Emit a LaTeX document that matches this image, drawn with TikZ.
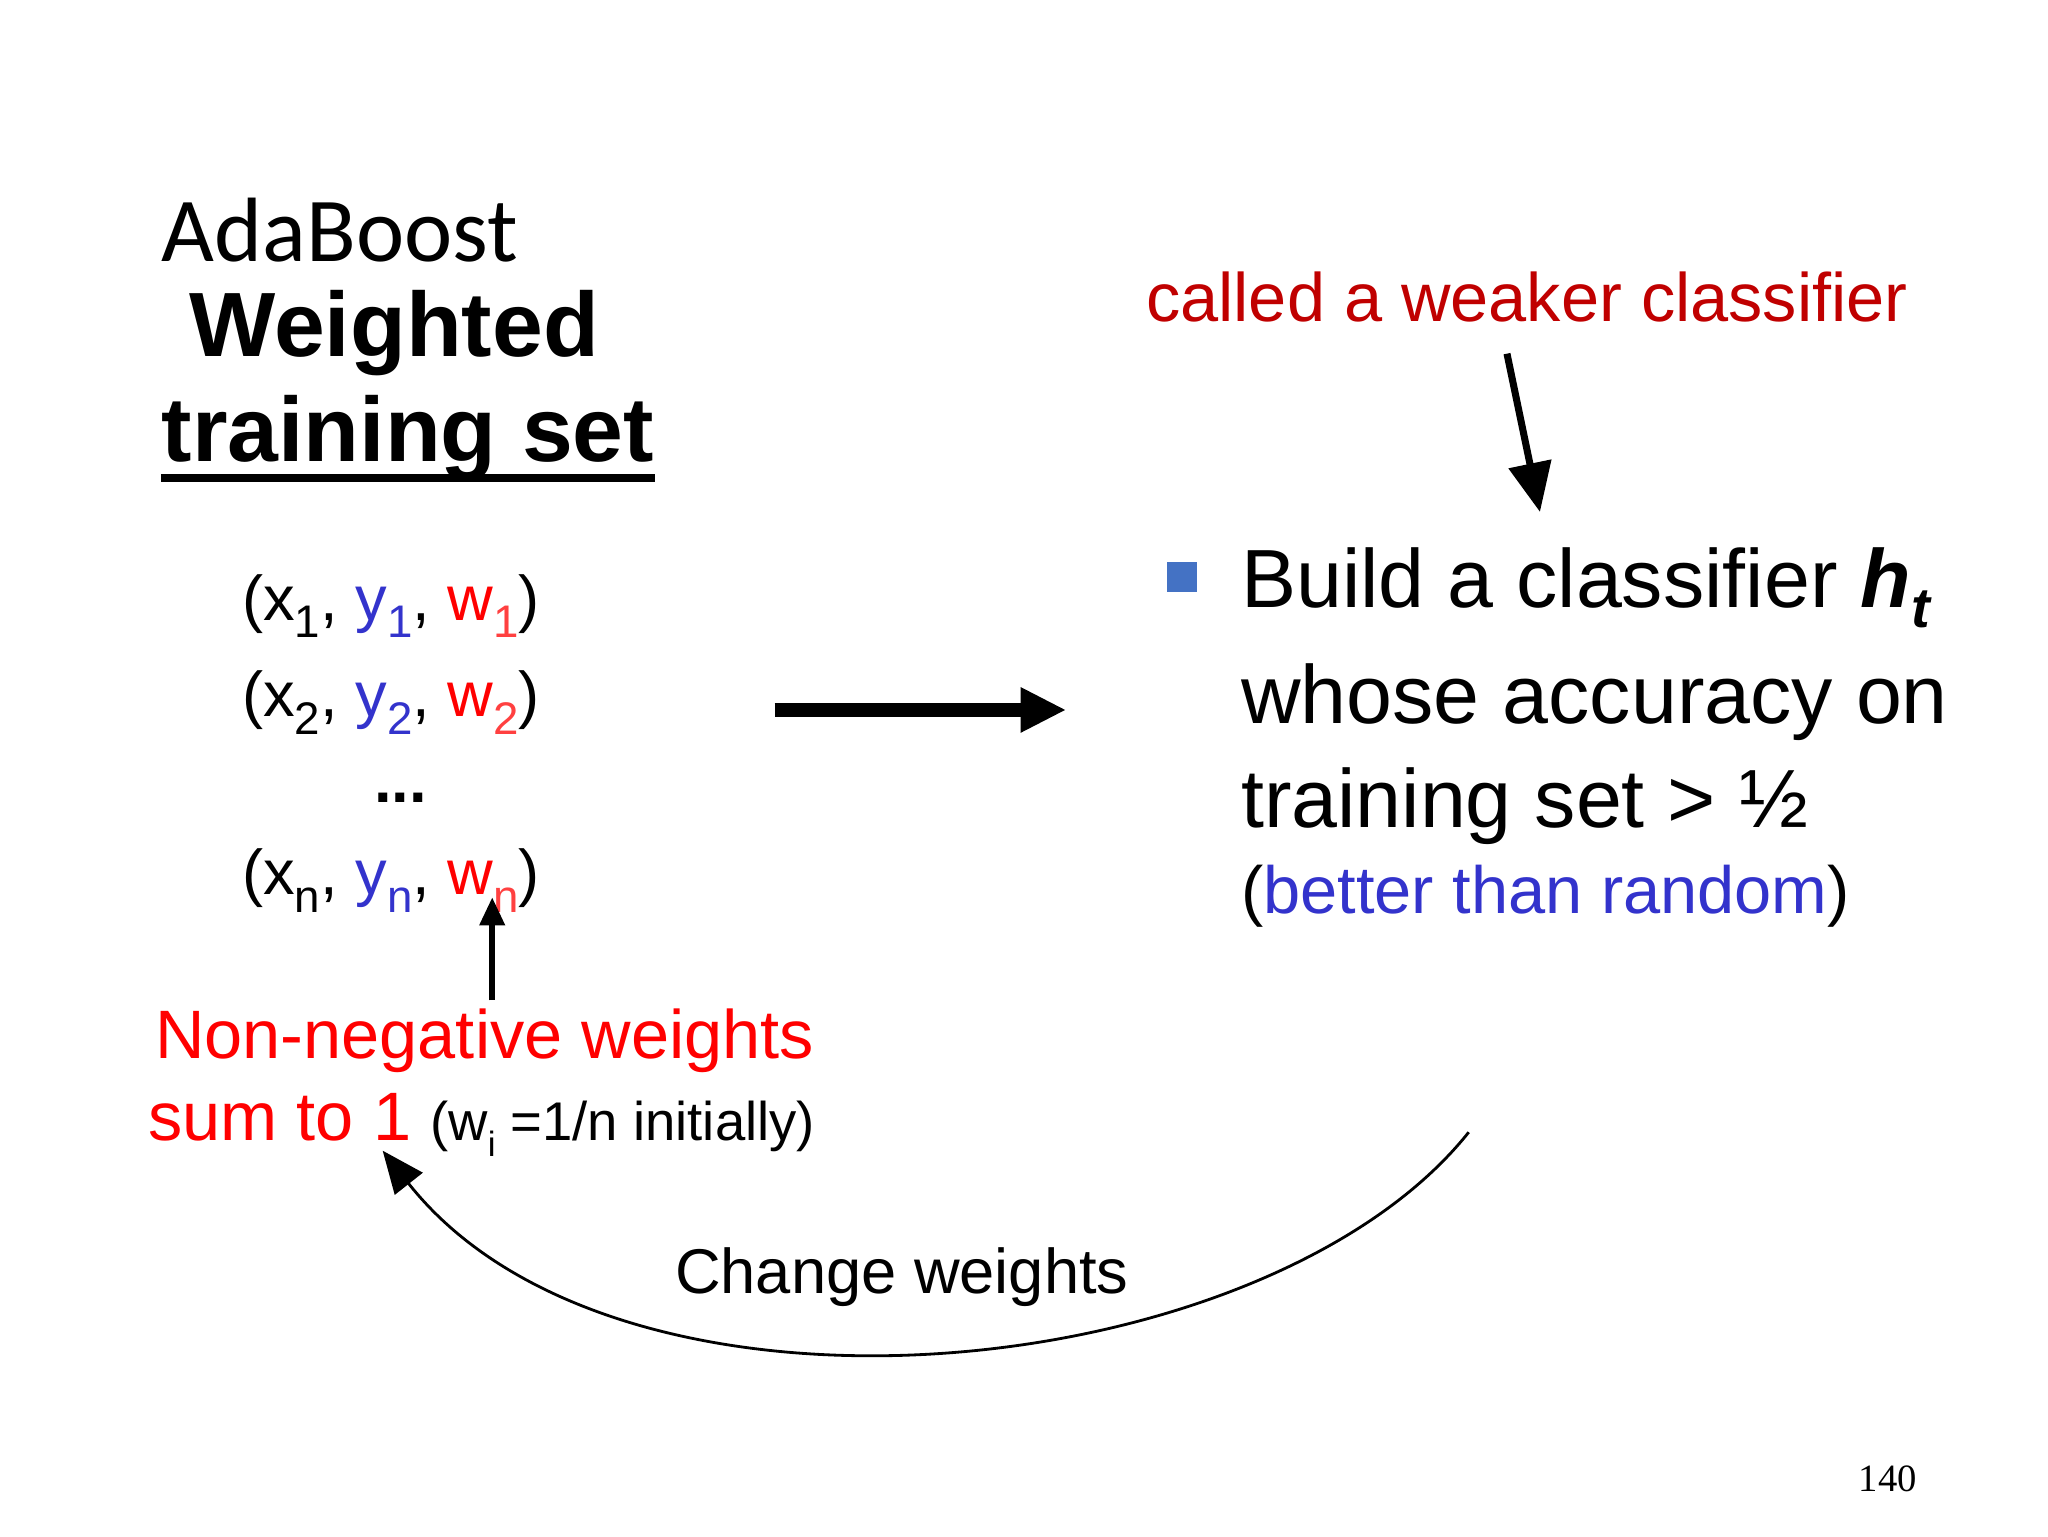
\documentclass[tikz,border=0pt]{standalone}
\usepackage{fontspec}
\setmainfont{Liberation Sans}
\newfontfamily\cali{Carlito}
\newfontfamily\serif{Liberation Serif}
\usetikzlibrary{arrows.meta}
\definecolor{dred}{HTML}{C00000}
\definecolor{bred}{HTML}{FF0000}
\definecolor{lred}{HTML}{FF4040}
\definecolor{bblue}{HTML}{3333CC}
\definecolor{sq}{HTML}{4472C4}
\newcommand{\sbs}[1]{\raisebox{-0.28em}{\fontsize{13}{13}\selectfont #1}}
\begin{document}
\begin{tikzpicture}[x=0.013196cm,y=-0.013196cm,
  txt/.style={anchor=base west,inner sep=0pt},
  arr/.style={-{Triangle[length=14pt,width=12pt]},line width=2pt}]
\useasboundingbox (0,0) rectangle (1552,1164);
\node[txt,font=\cali\fontsize{26}{30}\selectfont] (ada) at (122,198) {AdaBoost};
\node[txt,font=\fontsize{26}{30}\selectfont\bfseries] (wt) at (143,270) {Weighted};
\node[txt,font=\fontsize{26}{30}\selectfont\bfseries] (ts) at (122,350) {training set};
\draw[line width=2.2pt] (ts.base west)++(0,12) -- ++(374,0);
\foreach \i/\y/\n in {1/470/a,2/543/b,n/678/d}{
 \node[txt,font=\fontsize{18}{22}\selectfont] (t\n) at (183,\y) {(x\sbs{\i}, \textcolor{bblue}{y\sbs{\i}}, \textcolor{bred}{w}\textcolor{lred}{\sbs{\i}})};}
\node[txt,font=\fontsize{18}{22}\selectfont\bfseries] (tc) at (283,608) {...};
\coordinate (a1) at (587,538); \coordinate (a2) at (808,538);
\draw[-{Triangle[length=13pt,width=12pt]},line width=4pt] (a1) -- (a2);
\node[fill=sq,minimum size=0.3cm,inner sep=0pt] (sqr) at (896,437) {};
\node[txt,font=\fontsize{23.5}{28}\selectfont] (b1) at (940,460) {Build a classifier \textbf{\textit{h\raisebox{-0.25em}{\fontsize{16}{16}\selectfont\bfseries\itshape t}}}};
\node[txt,font=\fontsize{23.5}{28}\selectfont] (b2) at (940,548) {whose accuracy on};
\node[txt,font=\fontsize{23.5}{28}\selectfont] (b3) at (940,627) {training set > ½};
\node[txt,font=\fontsize{19}{23}\selectfont] (b4) at (940,692) {(\textcolor{bblue}{better than random})};
\node[txt,font=\fontsize{19.5}{23}\selectfont,text=dred] (cw) at (868,244) {called a weaker classifier};
\coordinate (c1) at (1142,268); \coordinate (c2) at (1167,388);
\draw[arr] (c1) -- (c2);
\node[txt,font=\fontsize{19.5}{24}\selectfont,text=bred] (nn) at (117,802) {Non-negative weights};
\node[txt,font=\fontsize{19.5}{24}\selectfont] (st) at (112,864) {\textcolor{bred}{sum to 1} {\fontsize{15.5}{18}\selectfont(w\raisebox{-0.3em}{\fontsize{10}{10}\selectfont i} =1/n initially)}};
\coordinate (n1) at (373,758); \coordinate (n2) at (373,680);
\draw[-{Triangle[length=8pt,width=7pt]},line width=1.6pt] (n1) -- (n2);
\coordinate (r1) at (1113,858); \coordinate (r2) at (290,872);
\draw[-{Triangle[length=12pt,width=10pt]},line width=0.8pt] (r1) .. controls (960,1050) and (470,1100) .. (r2);
\node[txt,font=\fontsize{18}{22}\selectfont] (chg) at (511,980) {Change weights};
\node[txt,font=\serif\fontsize{11}{13}\selectfont] (pg) at (1408,1130) {140};
\end{tikzpicture}
\end{document}
